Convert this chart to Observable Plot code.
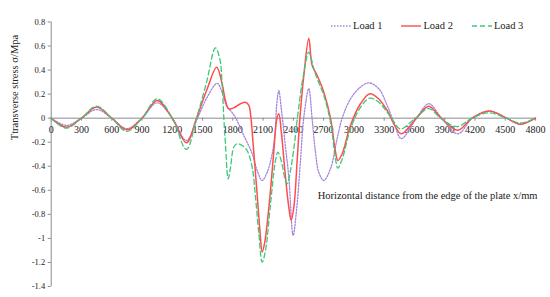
<!DOCTYPE html>
<html><head><meta charset="utf-8">
<script src="https://cdn.jsdelivr.net/npm/d3@7"></script>
<script src="https://cdn.jsdelivr.net/npm/@observablehq/plot@0.6"></script>
<style>
body{margin:0;background:#fff;}
#wrap{position:relative;width:550px;height:297px;overflow:hidden;}
#legend{position:absolute;top:19px;left:331px;display:flex;font:10.5px "Liberation Serif",serif;color:#222;line-height:14px;}
#legend .item{display:flex;align-items:center;margin-right:19px;}
#legend svg{margin-right:2px;}
</style></head>
<body><div id="wrap"><div id="chart"></div><div id="legend"></div></div>
<script>
const seriesNames = ["Load 1", "Load 2", "Load 3"];
const seriesColors = ["#a585dc", "#ff4d4d", "#3cc878"];
const seriesDash = ["1.5,1.5", null, "5,3"];

const load1X = [0,150,300,450,600,750,900,1050,1200,1340,1450,1546,1645,1700,1740,1790,1830,1909,1992,2041,2091,2141,2190,2223,2233,2256,2279,2322,2355,2398,2431,2471,2504,2553,2586,2619,2652,2702,2768,2834,2884,2966,3065,3148,3247,3330,3396,3470,3620,3742,3870,4030,4175,4340,4510,4650,4800];
const load1Y = [0,-0.06,0,0.072,0,-0.088,0,0.128,0,-0.185,0,0.175,0.29,0.2,0.097,0.05,0,-0.144,-0.296,-0.435,-0.518,-0.449,-0.296,-0.10,0.09,0.23,0.09,-0.24,-0.49,-0.975,-0.77,-0.35,0.01,0.245,-0.005,-0.28,-0.45,-0.518,-0.42,-0.17,0,0.16,0.258,0.294,0.245,0.105,-0.033,-0.17,0,0.12,0,-0.13,0,0.06,0,-0.05,0];

const load2X = [0,150,300,450,600,750,900,1050,1200,1340,1440,1540,1640,1694,1727,1760,1810,1876,1926,1959,1980,2000,2040,2070,2091,2115,2160,2207,2233,2256,2279,2322,2355,2378,2405,2438,2465,2504,2553,2586,2636,2702,2768,2818,2841,2884,2966,3065,3158,3247,3330,3396,3470,3620,3742,3865,4030,4170,4340,4515,4650,4800];
const load2Y = [0,-0.075,0,0.092,0,-0.097,0,0.147,0,-0.205,0,0.23,0.424,0.286,0.147,0.078,0.086,0.12,0.133,0.106,0,-0.2,-0.62,-0.95,-1.114,-1.04,-0.72,-0.27,-0.02,0.037,-0.1,-0.49,-0.74,-0.85,-0.74,-0.35,0,0.355,0.665,0.44,0.355,0.216,0,-0.28,-0.352,-0.296,-0.06,0.12,0.203,0.16,0.064,-0.047,-0.13,0,0.10,0,-0.10,0,0.06,0,-0.05,0];

const load3X = [0,150,300,450,600,750,900,1050,1200,1340,1440,1540,1627,1671,1694,1711,1727,1754,1777,1810,1843,1893,1942,1992,2025,2058,2091,2124,2174,2223,2246,2279,2322,2339,2372,2411,2440,2500,2553,2603,2636,2702,2768,2818,2841,2884,2966,3065,3158,3247,3330,3396,3460,3610,3742,3860,4020,4170,4340,4510,4650,4800];
const load3Y = [0,-0.083,0,0.10,0,-0.11,0,0.161,0,-0.26,0,0.3,0.585,0.494,0.286,0,-0.213,-0.504,-0.41,-0.24,-0.213,-0.227,-0.27,-0.41,-0.657,-0.96,-1.197,-1.10,-0.71,-0.35,-0.283,-0.35,-0.52,-0.546,-0.435,-0.213,0,0.36,0.549,0.41,0.33,0.19,-0.033,-0.34,-0.416,-0.34,-0.09,0.09,0.166,0.133,0.05,-0.03,-0.09,0,0.08,0,-0.07,0,0.045,0,-0.04,0];

const xTicks = [0,300,600,900,1200,1500,1800,2100,2400,2700,3000,3300,3600,3900,4200,4500,4800];
const yTicks = [-1.4,-1.2,-1,-0.8,-0.6,-0.4,-0.2,0,0.2,0.4,0.6,0.8];
const yTitle = "Ttransverse stress σ/Mpa";
const xTitle = "Horizontal distance from the edge of the plate x/mm";

const xs = [load1X, load2X, load3X];
const ys = [load1Y, load2Y, load3Y];
const rows = seriesNames.map((name, i) => xs[i].map((x, j) => ({series: name, x, y: ys[i][j]})));

const axisGray = "#8c8c8c";
const plot = Plot.plot({
  width: 550, height: 297,
  marginLeft: 50.7, marginRight: 15, marginTop: 21.5, marginBottom: 11,
  x: {domain: [0, 4800], axis: null},
  y: {domain: [-1.4, 0.8], axis: null},
  style: {fontFamily: "'Liberation Serif', serif", background: "white", color: "#222"},
  marks: [
    Plot.ruleX([0], {stroke: axisGray}),
    Plot.axisY({ticks: yTicks, tickSize: 3, tickPadding: 3, fontSize: 8.5, stroke: axisGray, fill: "#222", tickFormat: d => String(+d.toFixed(1)), label: null}),
    Plot.ruleY([0], {stroke: axisGray}),
    Plot.ruleX(xTicks, {x: d => d, y1: 0, y2: 0, insetBottom: -3, stroke: axisGray}),
    Plot.text(xTicks, {x: d => d, y: 0, dy: 12, text: d => String(d), fontSize: 10, fill: "#222"}),
    ...rows.map((r, i) => Plot.line(r, {x: "x", y: "y", curve: "catmull-rom", stroke: seriesColors[i], strokeWidth: i === 1 ? 1.5 : 1.3, strokeDasharray: seriesDash[i]})),
    Plot.text([yTitle], {frameAnchor: "left", rotate: -90, dx: -37, dy: -14, fontSize: 10.5, fill: "#222"}),
    Plot.text([xTitle], {frameAnchor: "right", textAnchor: "end", dx: 2, dy: 41, fontSize: 10.5, fill: "#222"})
  ]
});
document.getElementById("chart").appendChild(plot);

const legend = document.getElementById("legend");
seriesNames.forEach((name, i) => {
  const item = document.createElement("div");
  item.className = "item";
  const dash = seriesDash[i] ? `stroke-dasharray="${seriesDash[i]}"` : "";
  item.innerHTML = `<svg width="20" height="6"><line x1="0" y1="3" x2="20" y2="3" stroke="${seriesColors[i]}" stroke-width="1.4" ${dash}/></svg><span>${name}</span>`;
  legend.appendChild(item);
});
</script>
</body></html>
